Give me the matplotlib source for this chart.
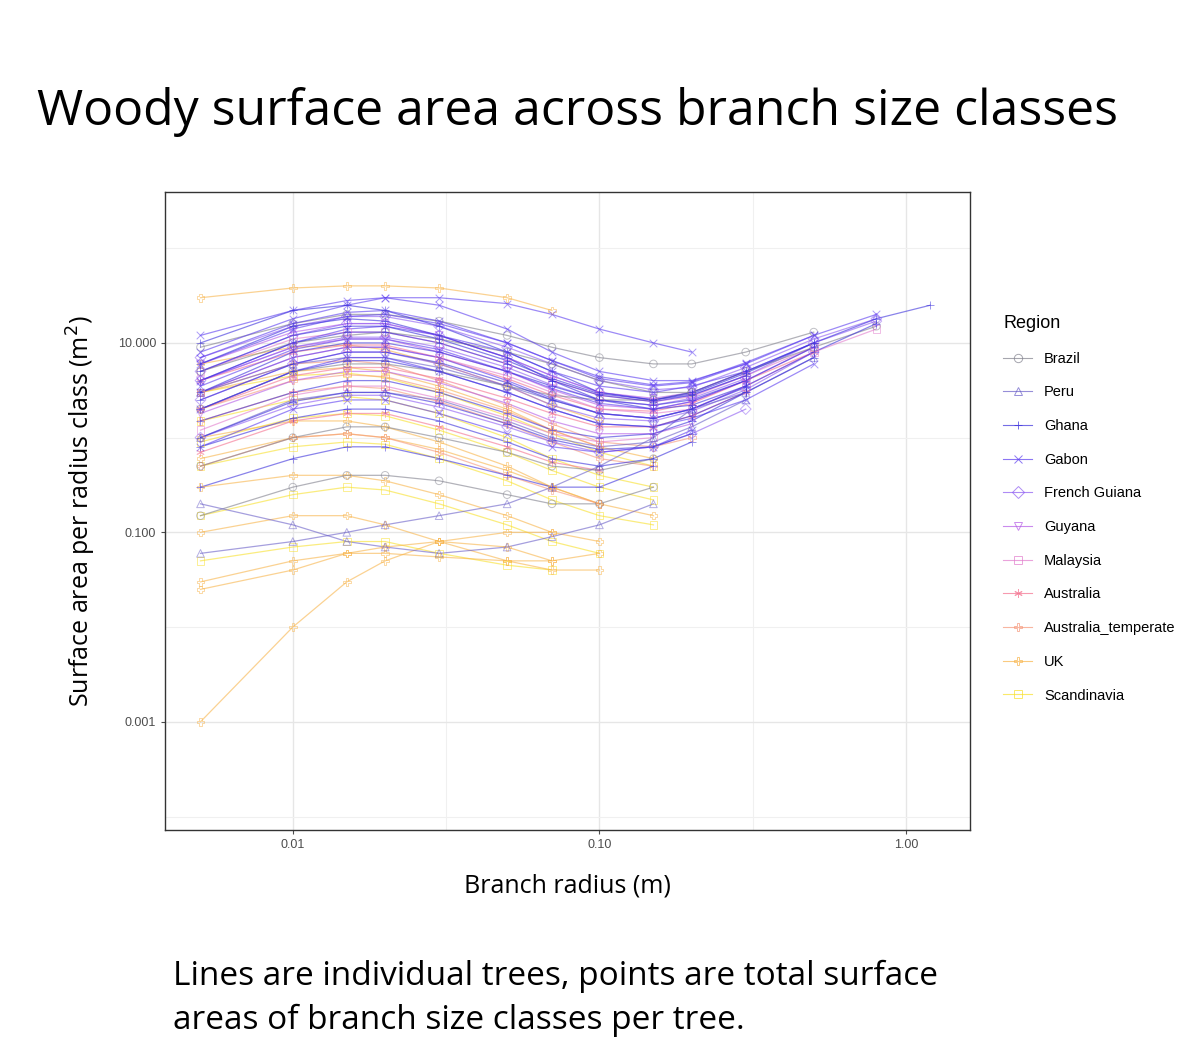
import numpy as np
import matplotlib
matplotlib.use("Agg")
import matplotlib.pyplot as plt
from matplotlib.lines import Line2D

radius = [0.005, 0.01, 0.015, 0.02, 0.03, 0.05, 0.07, 0.1, 0.15, 0.2, 0.3, 0.5, 0.8, 1.2]

regions = ["Brazil", "Peru", "Ghana", "Gabon", "French Guiana", "Guyana", "Malaysia",
           "Australia", "Australia_temperate", "UK", "Scandinavia"]
colors = ["#80808c", "#6a5fc8", "#3b30dc", "#5b3cf0", "#8c5af2", "#b45ae6", "#e27ccc",
          "#f4708e", "#f6977a", "#f8b44a", "#f8e02a"]
markers = ["o", "^", "+", "x", "D", "v", "s", (6, 2, 0), "P", "P", "s"]

trees = {
    "Brazil": [[2, 5, 6, 6, 5, 3.5, 2.8, 2.5, 2.5, 3, 5, 9, 15],
               [5, 10, 12, 13, 11, 8, 6, 4, 3, 3],
               [0.5, 1, 1.3, 1.3, 1, 0.7, 0.5, 0.45, 0.6],
               [9, 16, 20, 20, 17, 12, 9, 7, 6, 6, 8, 13],
               [0.15, 0.3, 0.4, 0.4, 0.35, 0.25, 0.2, 0.2, 0.3]],
    "Peru": [[0.06, 0.08, 0.1, 0.12, 0.15, 0.2, 0.3, 0.5, 1, 2],
             [1, 2.5, 3, 3, 2.5, 1.5, 1, 0.8, 0.9, 1.3, 2.5],
             [3, 6, 7, 7, 5.5, 3.5, 2.5, 1.8, 1.6, 2, 3, 7],
             [0.2, 0.12, 0.08, 0.07, 0.06, 0.07, 0.09, 0.12, 0.2]],
    "Ghana": [[3, 8, 10, 10, 8, 5, 3.5, 2.5, 2.2, 2.5, 4, 9],
              [1.5, 3, 4, 4, 3, 1.8, 1.2, 1, 1.1, 1.5, 3],
              [6, 15, 18, 17, 12, 7, 4, 2.5, 2, 2.2, 3.5, 8, 16],
              [0.3, 0.6, 0.8, 0.8, 0.6, 0.4, 0.3, 0.3, 0.5],
              [10, 22, 25, 22, 15, 8, 5, 3, 2.5, 3, 5, 10, 18, 25],
              [0.8, 1.6, 2, 2, 1.5, 0.9, 0.6, 0.5, 0.6, 0.9],
              [4, 10, 13, 13, 10, 6, 4, 2.8, 2.4, 2.8, 4.5],
              [2, 5, 6.5, 6.5, 5, 3, 2, 1.4, 1.3, 1.7, 3, 7],
              [5, 12, 15, 15, 11, 6.5, 4.2, 2.9, 2.5, 2.9, 4.8, 10],
              [2.5, 6, 8, 8, 6.2, 3.8, 2.5, 1.8, 1.6, 2, 3.4],
              [1, 2.4, 3, 3, 2.3, 1.4, 0.95, 0.75, 0.8, 1.1]],
    "Gabon": [[4, 10, 14, 15, 12, 8, 5, 3.5, 3, 3.5, 5, 10],
              [2, 5, 7, 7, 5, 3, 2, 1.4, 1.3, 1.6, 2.5, 6],
              [8, 18, 25, 30, 25, 14, 8, 5, 4, 4, 6],
              [0.8, 2, 2.5, 2.5, 1.8, 1.1, 0.8, 0.7, 0.8, 1.2],
              [6, 14, 19, 20, 16, 10, 6.5, 4.2, 3.5, 3.8, 6, 12, 20],
              [3, 7, 9, 9, 7, 4, 2.6, 1.8, 1.6, 2, 3.5],
              [12, 22, 28, 30, 30, 26, 20, 14, 10, 8],
              [7, 16, 21, 22, 17, 10, 6.5, 4.4, 3.6, 3.9, 6.2, 12],
              [3.5, 8.5, 11, 11, 8.5, 5, 3.3, 2.3, 2, 2.4, 4]],
    "French Guiana": [[5, 12, 16, 16, 12, 7, 4.5, 3, 2.5, 2.8, 4.5, 10, 17],
                      [2.5, 6, 8, 8, 6, 3.5, 2.2, 1.6, 1.5, 1.9, 3.2, 8],
                      [1, 2.2, 2.8, 2.8, 2.1, 1.3, 0.9, 0.7, 0.8, 1.1, 2],
                      [7, 15, 19, 19, 15, 9, 6, 4, 3.2, 3.4, 5.5, 11, 18],
                      [4, 9, 11.5, 11.5, 9, 5.5, 3.6, 2.5, 2.2, 2.6, 4.2]],
    "Guyana": [[4, 9, 11, 11, 8, 5, 3.2, 2.2, 2, 2.4, 4, 9],
               [1.8, 4, 5, 5, 3.8, 2.3, 1.5, 1.1, 1.1, 1.4],
               [6, 13, 16, 16, 12, 7, 4.5, 3, 2.6, 3, 5]],
    "Malaysia": [[3, 7, 9, 9, 7, 4.5, 3, 2, 1.8, 2, 3.5, 8, 14],
                 [1.2, 2.8, 3.5, 3.5, 2.6, 1.6, 1.1, 0.9, 1],
                 [5, 11, 13, 13, 10, 6, 4, 2.8, 2.4, 2.7, 4.5, 9]],
    "Australia": [[2, 4.5, 5.5, 5.5, 4.2, 2.6, 1.8, 1.3, 1.3, 1.7, 3],
                  [0.7, 1.5, 1.8, 1.8, 1.3, 0.8, 0.55, 0.45],
                  [4, 8, 9.5, 9.5, 7, 4.2, 2.8, 2, 1.9, 2.3, 4, 8]],
    "Australia_temperate": [[1.5, 3, 3.5, 3.3, 2.4, 1.4, 0.9, 0.6, 0.5],
                            [0.5, 1, 1.1, 1, 0.7, 0.4, 0.28, 0.2],
                            [3, 6, 6.5, 6, 4, 2.2, 1.4, 0.9, 0.8, 1],
                            [2, 4, 4.6, 4.4, 3.2, 1.9, 1.2, 0.8]],
    "UK": [[1, 1.5, 1.5, 1.3, 0.9, 0.5, 0.3, 0.2, 0.15],
           [0.03, 0.05, 0.06, 0.06, 0.055, 0.05, 0.05, 0.06],
           [0.3, 0.4, 0.4, 0.35, 0.25, 0.15, 0.1, 0.08],
           [3, 5, 5.5, 5, 3.5, 2, 1.2, 0.8, 0.6],
           [0.001, 0.01, 0.03, 0.05, 0.08, 0.1, 0.1],
           [30, 38, 40, 40, 38, 30, 22],
           [0.1, 0.15, 0.15, 0.12, 0.08, 0.05, 0.04, 0.04],
           [6, 9, 9.5, 8.5, 6, 3.5, 2.2, 1.5],
           [0.025, 0.04, 0.06, 0.07, 0.08, 0.07, 0.05],
           [0.6, 1, 1.1, 1, 0.75, 0.45, 0.3, 0.2]],
    "Scandinavia": [[0.5, 0.8, 0.9, 0.85, 0.6, 0.35, 0.22, 0.15, 0.12],
                    [1.5, 2.5, 2.7, 2.5, 1.8, 1, 0.6, 0.4, 0.3],
                    [0.15, 0.25, 0.3, 0.28, 0.2, 0.12, 0.08, 0.06],
                    [0.05, 0.07, 0.08, 0.08, 0.06, 0.045, 0.04],
                    [3, 4.5, 4.8, 4.3, 3, 1.7, 1.1, 0.7, 0.5],
                    [0.9, 1.6, 1.8, 1.7, 1.2, 0.7, 0.45, 0.3, 0.22]],
}

fig = plt.figure(figsize=(12, 10.48), dpi=100)
ax = fig.add_axes([0.1375, 0.208, 0.6708, 0.6088])
ax.set_xscale("log")
ax.set_yscale("log")
ax.set_xlim(0.00383, 1.616)
ax.set_ylim(7.2e-5, 392)
for v in [0.01, 0.1, 1.0]:
    ax.axvline(v, color="#e6e6e6", lw=1.0, zorder=0)
for v in [0.0316, 0.316]:
    ax.axvline(v, color="#f0f0f0", lw=0.8, zorder=0)
for v in [10, 0.1, 0.001]:
    ax.axhline(v, color="#e6e6e6", lw=1.0, zorder=0)
for v in [100, 1, 0.01, 0.0001]:
    ax.axhline(v, color="#f0f0f0", lw=0.8, zorder=0)

order = ["Scandinavia", "UK", "Australia_temperate", "Australia", "Malaysia", "Guyana",
         "French Guiana", "Brazil", "Peru", "Gabon", "Ghana"]
for reg in order:
    i = regions.index(reg)
    c = colors[i]
    filled = markers[i] in ["+", "x", (6, 2, 0)]
    for t in trees[reg]:
        xs = radius[:len(t)]
        ax.plot(xs, t, color=c, lw=0.9, alpha=0.6, zorder=2)
        ax.scatter(xs, t, marker=markers[i], s=30, facecolors=c if filled else "none",
                   edgecolors=c, linewidths=0.7, alpha=0.5, zorder=3)

ax.set_xticks([0.01, 0.1, 1.0])
ax.set_xticklabels(["0.01", "0.10", "1.00"])
ax.set_yticks([10, 0.1, 0.001])
ax.set_yticklabels(["10.000", "0.100", "0.001"])
ax.minorticks_off()
ax.tick_params(labelsize=9, colors="#4d4d4d", length=3)
for lab in ax.get_xticklabels() + ax.get_yticklabels():
    lab.set_family("Liberation Sans")
for s in ax.spines.values():
    s.set_color("#333333")
    s.set_linewidth(1.0)

ax.set_xlabel("Branch radius (m)", fontsize=18, family="Open Sans", labelpad=16)
ax.set_ylabel("Surface area per radius class (m$^2$)", fontsize=18, family="Open Sans", labelpad=14)

handles = [Line2D([0], [0], color=colors[i], lw=0.8, marker=markers[i], markersize=6,
                  markerfacecolor="none", markeredgewidth=0.7, alpha=0.7) for i in range(len(regions))]
leg = fig.legend(handles, regions, title="Region", loc="upper left", bbox_to_anchor=(0.825, 0.712),
                 frameon=False, prop={"family": "Liberation Sans", "size": 10.5},
                 labelspacing=1.35, handlelength=2.0)
leg.get_title().set_fontsize(13)
leg.get_title().set_family("Liberation Sans")
leg._legend_box.align = "left"

fig.text(0.031, 0.881, "Woody surface area across branch size classes", fontsize=36, family="Open Sans")
fig.text(0.144, 0.018, "Lines are individual trees, points are total surface\nareas of branch size classes per tree.",
         fontsize=24, family="Open Sans", linespacing=1.45)

fig.savefig("out.png", dpi=100)
